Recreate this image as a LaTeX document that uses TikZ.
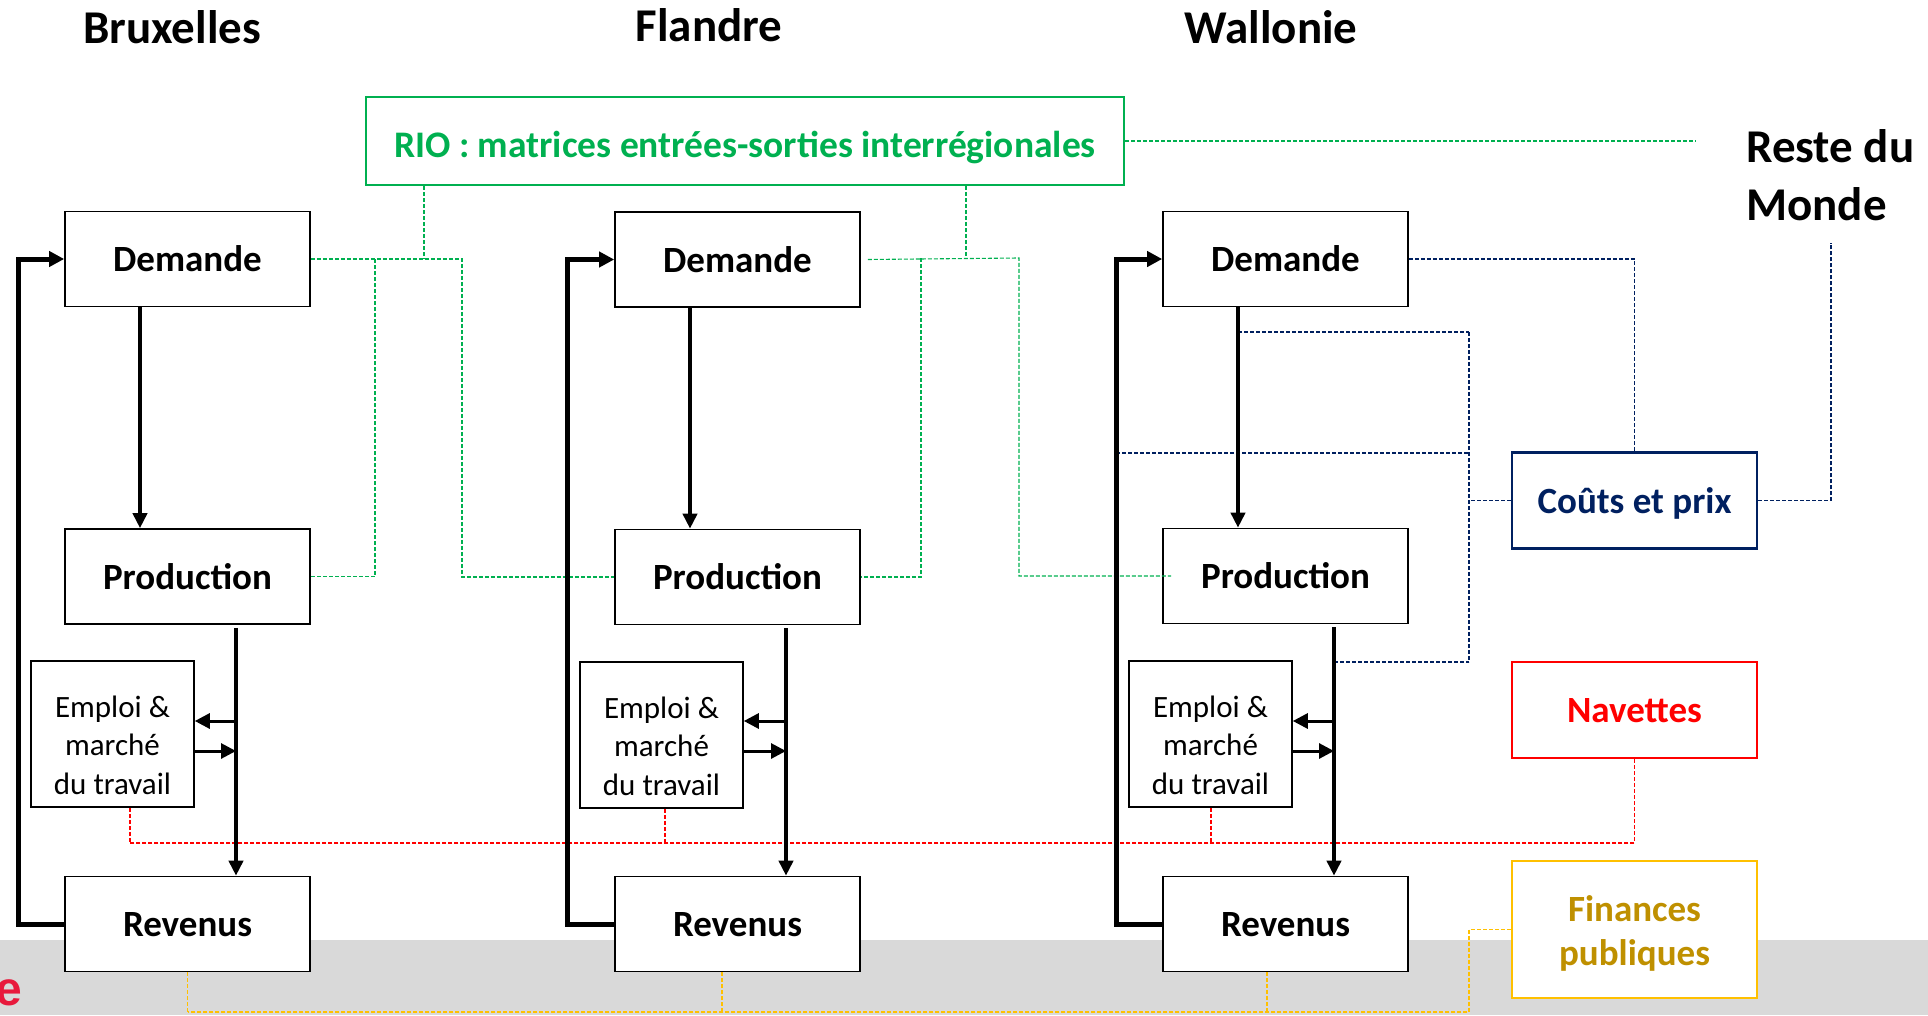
\documentclass[tikz,border=0pt]{standalone}
\usepackage{fontspec}
\setmainfont{Carlito}
\newfontfamily\cutfont{Liberation Sans}
\usetikzlibrary{arrows.meta}
\definecolor{rgreen}{HTML}{00B050}
\definecolor{rnavy}{HTML}{002060}
\definecolor{rred}{HTML}{FF0000}
\definecolor{rgoldline}{HTML}{FFC000}
\definecolor{rgoldtext}{HTML}{BF9000}
\definecolor{rband}{HTML}{D9D9D9}
\definecolor{rcrimson}{HTML}{E8193C}
\tikzset{
  blockbox/.style={draw=black, line width=1.6pt, fill=white, minimum width=245pt, minimum height=95pt, inner sep=0pt, text height=25pt, text depth=0pt, font=\fontsize{37}{45}\selectfont\bfseries},
  empbox/.style={draw=black, line width=1.6pt, fill=white, minimum width=163pt, minimum height=146pt, inner sep=0pt, align=center, text height=120pt, text depth=0pt, font=\fontsize{31}{38.5}\selectfont},
  sidebox/.style={line width=2.2pt, fill=white, minimum width=245pt, minimum height=96pt, inner sep=0pt, align=center, text height=25pt, text depth=0pt, font=\fontsize{37}{44}\selectfont\bfseries},
  regiontitle/.style={font=\fontsize{47}{57}\selectfont\bfseries, inner sep=0pt},
  flow/.style={line width=4pt, -{Triangle[length=15pt,width=14pt]}},
  loopflow/.style={line width=5pt, -{Triangle[length=15pt,width=15pt]}},
  smallflow/.style={line width=3pt, -{Triangle[length=15pt,width=15pt]}},
  linkdash/.style={line width=1.1pt, dash pattern=on 4pt off 2pt},
  gdash/.style={linkdash, draw=rgreen},
  bdash/.style={linkdash, draw=rnavy},
  rdash/.style={linkdash, draw=rred},
  ydash/.style={linkdash, draw=rgoldline},
}
\begin{document}
\begin{tikzpicture}[x=1pt,y=-1pt]
\useasboundingbox (0,0) rectangle (1928,1015);
\fill[rband] (0,940) rectangle (1928,1015);
\node[anchor=base east, inner sep=0pt, text=rcrimson, font=\cutfont\fontsize{48}{54}\selectfont\bfseries] (cut) at (22,1005) {e};

% titles
\node[regiontitle, anchor=base] (tbx) at (172,43) {Bruxelles};
\node[regiontitle, anchor=base] (tfl) at (709,41) {Flandre};
\node[regiontitle, anchor=base] (twa) at (1271,43) {Wallonie};
\node[regiontitle, anchor=base west] (rdm1) at (1746,162) {Reste du};
\node[regiontitle, anchor=base west] (rdm2) at (1746,220) {Monde};

% RIO
\node[draw=rgreen, line width=2.2pt, minimum width=758pt, minimum height=88pt, inner sep=0pt, text height=32pt, text depth=0pt, text=rgreen, font=\fontsize{37.5}{45}\selectfont\bfseries] (rio) at (745,141) {RIO : matrices entrées-sorties interrégionales};

% Bruxelles
\node[blockbox] (bxD) at (187.5,259) {Demande};
\node[blockbox] (bxP) at (187.5,576.5) {Production};
\node[blockbox] (bxR) at (187.5,924) {Revenus};
\node[empbox] (bxE) at (112.5,734) {Emploi \&\\marché\\du travail};
% Flandre
\node[blockbox] (flD) at (737.5,259.5) {Demande};
\node[blockbox] (flP) at (737.5,577) {Production};
\node[blockbox] (flR) at (737.5,924) {Revenus};
\node[empbox] (flE) at (661.5,735) {Emploi \&\\marché\\du travail};
% Wallonie
\node[blockbox] (waD) at (1285.5,259) {Demande};
\node[blockbox] (waP) at (1285.5,576) {Production};
\node[blockbox] (waR) at (1285.5,924) {Revenus};
\node[empbox] (waE) at (1210.5,734) {Emploi \&\\marché\\du travail};

% side boxes
\node[sidebox, draw=rnavy, text=rnavy] (couts) at (1634.5,500.5) {Coûts et prix};
\node[sidebox, draw=rred, text=rred] (nav) at (1634.5,710) {Navettes};
\node[sidebox, draw=rgoldline, text=rgoldtext, minimum height=137pt, text height=71pt] (fin) at (1634.5,929.5) {Finances\\publiques};

% ---------- green links ----------
\coordinate (gA) at (424,259);
\coordinate (gB) at (462,259);
\coordinate (gC) at (375,259);
\draw[gdash] (bxD.east) -- (gB) |- (flP.west);
\draw[gdash] (gA |- rio.south) -- (gA);
\draw[gdash] (gC) |- (bxP.east);
\coordinate (gD) at (966,258);
\coordinate (gE) at (1019,258);
\coordinate (gF) at (921,258);
\draw[gdash] ([xshift=7pt]flD.east) -- (gE) |- ([xshift=9pt]waP.west);
\draw[gdash] (gD |- rio.south) -- (gD);
\draw[gdash] (gF) |- (flP.east);
\coordinate (rdmg) at (1696,141);
\draw[gdash] (rio.east) -- (rdmg);

% ---------- blue links ----------
\coordinate (rdmfoot) at (1831,243);
\draw[bdash] (waD.east) -| (couts.north);
\draw[bdash] (couts.east) -| (rdmfoot);
\coordinate (bJ) at (1469,500.5);
\coordinate (bTop) at (1469,332);
\coordinate (bMid) at (1469,453);
\coordinate (bBot) at (1469,662);
\draw[bdash] (couts.west) -- (bJ);
\draw[bdash] (bTop) -- (bBot);
\coordinate (waDPpt) at (1238,332);
\coordinate (waLoopPt) at (1116,453);
\coordinate (waPRpt) at (1334,662);
\draw[bdash] (waDPpt) -- (bTop);
\draw[bdash] (waLoopPt) -- (bMid);
\draw[bdash] (waPRpt) -- (bBot);

% ---------- red links ----------
\coordinate (rbx) at (130,843);
\coordinate (rfl) at (665,843);
\coordinate (rwa) at (1211,843);
\draw[rdash] (nav.south) |- (rbx);
\draw[rdash] (rbx |- bxE.south) -- (rbx);
\draw[rdash] (rfl |- flE.south) -- (rfl);
\draw[rdash] (rwa |- waE.south) -- (rwa);

% ---------- yellow links ----------
\coordinate (yJ) at (1469,1012);
\coordinate (ybx) at (187.5,1012);
\coordinate (yfl) at (722,1012);
\coordinate (ywa) at (1267,1012);
\draw[ydash] (fin.west) -| (yJ) -- (ybx);
\draw[ydash] (ybx |- bxR.south) -- (ybx);
\draw[ydash] (yfl |- flR.south) -- (yfl);
\draw[ydash] (ywa |- waR.south) -- (ywa);

% ---------- black flows ----------
% Bruxelles
\coordinate (bxDP) at (140,0);
\coordinate (bxPR) at (236,0);
\coordinate (bxL) at (18,590);
\coordinate (bxEa) at (236,721);
\coordinate (bxEb) at (236,751);
\draw[flow] (bxDP |- bxD.south) -- (bxDP |- bxP.north);
\draw[flow] ([yshift=-3pt]bxPR |- bxP.south) -- (bxPR |- bxR.north);
\draw[smallflow] (bxEa) -- (bxEa -| bxE.east);
\draw[smallflow] (bxEb -| bxE.east) -- (bxEb);
\draw[loopflow] (bxR.west) -| (bxL) |- (bxD.west);
% Flandre
\coordinate (flDP) at (690,0);
\coordinate (flPR) at (786,0);
\coordinate (flL) at (567,590);
\coordinate (flEa) at (786,721);
\coordinate (flEb) at (786,751);
\draw[flow] (flDP |- flD.south) -- (flDP |- flP.north);
\draw[flow] ([yshift=-3pt]flPR |- flP.south) -- (flPR |- flR.north);
\draw[smallflow] (flEa) -- (flEa -| flE.east);
\draw[smallflow] (flEb -| flE.east) -- (flEb);
\draw[loopflow] (flR.west) -| (flL) |- (flD.west);
% Wallonie
\coordinate (waDP) at (1238,0);
\coordinate (waPR) at (1334,0);
\coordinate (waL) at (1116,590);
\coordinate (waEa) at (1334,721);
\coordinate (waEb) at (1334,751);
\draw[flow] (waDP |- waD.south) -- (waDP |- waP.north);
\draw[flow] ([yshift=-3pt]waPR |- waP.south) -- (waPR |- waR.north);
\draw[smallflow] (waEa) -- (waEa -| waE.east);
\draw[smallflow] (waEb -| waE.east) -- (waEb);
\draw[loopflow] (waR.west) -| (waL) |- (waD.west);
\end{tikzpicture}
\end{document}
